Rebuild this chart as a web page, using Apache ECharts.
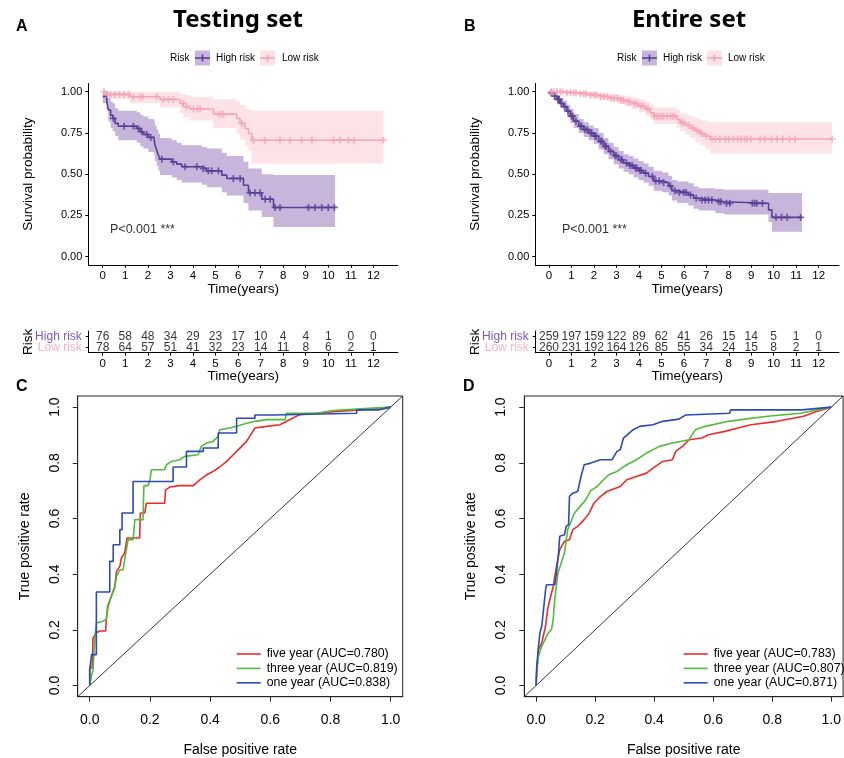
<!DOCTYPE html>
<html>
<head>
<meta charset="utf-8">
<script src="https://cdn.jsdelivr.net/npm/echarts@6/dist/echarts.min.js"></script>
<style>
  html, body { margin: 0; padding: 0; background: #fff; }
  #chart { width: 844px; height: 758px; }
</style>
</head>
<body>
<div id="chart"></div>
<script>
// ---------- Kaplan-Meier: Testing set ----------
const testHighTime  = [0, 0.18, 0.25, 0.35, 0.44, 0.55, 0.69, 1.51, 1.66, 1.80, 2.02, 2.28, 2.32, 2.39, 2.47, 2.54, 3.06, 3.28, 3.50, 4.39, 4.61, 5.28, 5.50, 6.24, 6.46, 7.05, 7.57];
const testHighSurv  = [0.972, 0.939, 0.889, 0.858, 0.838, 0.808, 0.791, 0.777, 0.757, 0.741, 0.723, 0.706, 0.676, 0.646, 0.615, 0.591, 0.575, 0.561, 0.545, 0.534, 0.520, 0.494, 0.474, 0.433, 0.387, 0.348, 0.298];
const testHighLower = [0.93, 0.89, 0.82, 0.78, 0.76, 0.73, 0.706, 0.69, 0.67, 0.655, 0.635, 0.615, 0.58, 0.55, 0.52, 0.495, 0.48, 0.465, 0.45, 0.435, 0.42, 0.39, 0.37, 0.325, 0.28, 0.24, 0.18];
const testHighUpper = [1, 1, 0.96, 0.94, 0.93, 0.90, 0.885, 0.875, 0.86, 0.85, 0.835, 0.82, 0.795, 0.77, 0.745, 0.72, 0.705, 0.69, 0.675, 0.665, 0.655, 0.63, 0.61, 0.575, 0.535, 0.5, 0.495];
const testHighEnd = 10.3;
const testHighCensor = [0.47, 0.95, 1.36, 1.58, 1.73, 1.95, 2.13, 2.62, 3.13, 3.65, 4.17, 4.46, 4.68, 4.83, 5.13, 5.79, 6.09, 6.53, 6.75, 6.98, 7.2, 7.42, 7.64, 7.86, 9.12, 9.41, 9.71, 10.0, 10.27];

const testLowTime  = [0, 0.18, 1.21, 2.54, 3.43, 3.58, 3.87, 4.91, 5.94, 6.09, 6.31, 6.46, 6.61];
const testLowSurv  = [1.0, 0.984, 0.970, 0.953, 0.929, 0.909, 0.895, 0.864, 0.838, 0.808, 0.777, 0.747, 0.706];
const testLowLower = [1.0, 0.955, 0.93, 0.905, 0.87, 0.845, 0.825, 0.78, 0.745, 0.71, 0.675, 0.64, 0.565];
const testLowUpper = [1.0, 1.0, 1.0, 1.0, 0.99, 0.98, 0.97, 0.955, 0.94, 0.92, 0.90, 0.89, 0.885];
const testLowEnd = 12.44;
const testLowCensor = [0.06, 0.21, 0.35, 0.55, 0.74, 0.95, 1.14, 1.36, 1.66, 1.77, 2.39, 2.69, 2.91, 3.13, 3.55, 3.72, 4.02, 4.2, 4.32, 5.13, 5.23, 5.35, 6.16, 6.68, 7.2, 7.86, 8.3, 8.82, 9.27, 10.23, 10.52, 10.89, 11.14, 12.44];

// ---------- Kaplan-Meier: Entire set ----------
const entireHighTime  = [0, 0.21, 0.36, 0.50, 0.65, 0.80, 0.95, 1.10, 1.32, 1.54, 1.77, 1.99, 2.21, 2.43, 2.65, 2.88, 3.10, 3.32, 3.54, 3.77, 3.99, 4.21, 4.43, 4.66, 5.03, 5.32, 5.47, 5.70, 6.21, 6.44, 6.66, 7.40, 7.77, 9.77, 9.92];
const entireHighSurv  = [0.994, 0.974, 0.953, 0.929, 0.909, 0.882, 0.852, 0.821, 0.791, 0.770, 0.750, 0.730, 0.699, 0.669, 0.638, 0.612, 0.587, 0.567, 0.553, 0.537, 0.522, 0.506, 0.486, 0.459, 0.449, 0.429, 0.400, 0.388, 0.374, 0.354, 0.343, 0.333, 0.323, 0.283, 0.238];
const entireHighLower = [0.98, 0.95, 0.925, 0.9, 0.875, 0.845, 0.81, 0.78, 0.75, 0.725, 0.705, 0.685, 0.65, 0.62, 0.59, 0.56, 0.535, 0.515, 0.5, 0.48, 0.465, 0.45, 0.43, 0.4, 0.39, 0.37, 0.34, 0.325, 0.31, 0.29, 0.28, 0.265, 0.255, 0.21, 0.15];
const entireHighUpper = [1.0, 0.995, 0.98, 0.96, 0.945, 0.92, 0.895, 0.865, 0.835, 0.815, 0.795, 0.78, 0.75, 0.72, 0.69, 0.665, 0.64, 0.62, 0.61, 0.595, 0.58, 0.565, 0.545, 0.52, 0.51, 0.49, 0.465, 0.455, 0.445, 0.425, 0.415, 0.41, 0.405, 0.385, 0.385];
const entireHighEnd = 11.26;
const entireHighCensor = [0.1, 0.25, 0.4, 0.45, 0.55, 0.7, 0.85, 1.0, 1.05, 1.2, 1.4, 1.45, 1.6, 1.7, 1.85, 1.9, 2.05, 2.1, 2.3, 2.35, 2.5, 2.55, 2.75, 2.95, 3.0, 3.2, 3.25, 3.45, 3.6, 3.7, 3.85, 3.9, 4.05, 4.1, 4.3, 4.6, 4.75, 4.9, 5.1, 5.4, 5.6, 5.8, 6.0, 6.1, 6.3, 6.55, 6.8, 6.95, 7.1, 7.25, 7.55, 7.65, 7.9, 8.05, 9.05, 9.15, 9.25, 9.5, 10.1, 10.35, 10.6, 11.2];

const entireLowTime  = [0, 0.73, 1.32, 1.77, 2.21, 2.65, 3.10, 3.40, 3.69, 3.99, 4.29, 4.51, 4.66, 5.70, 5.84, 6.07, 6.29, 6.51, 6.73, 6.96, 7.18];
const entireLowSurv  = [1.0, 0.994, 0.988, 0.980, 0.970, 0.961, 0.949, 0.939, 0.927, 0.913, 0.896, 0.872, 0.852, 0.831, 0.811, 0.797, 0.780, 0.764, 0.746, 0.730, 0.713];
const entireLowLower = [1, 0.985, 0.975, 0.965, 0.95, 0.94, 0.925, 0.91, 0.895, 0.875, 0.855, 0.83, 0.805, 0.78, 0.76, 0.74, 0.72, 0.695, 0.675, 0.655, 0.625];
const entireLowUpper = [1, 1, 1, 1, 0.99, 0.985, 0.978, 0.972, 0.965, 0.955, 0.94, 0.92, 0.905, 0.89, 0.87, 0.86, 0.85, 0.84, 0.83, 0.82, 0.815];
const entireLowEnd = 12.59;
const entireLowCensor = [0.1, 0.2, 0.35, 0.5, 0.6, 0.8, 0.95, 1.1, 1.2, 1.4, 1.55, 1.65, 1.85, 2.0, 2.1, 2.3, 2.45, 2.6, 2.75, 2.9, 3.05, 3.2, 3.3, 3.5, 3.6, 3.8, 3.9, 4.1, 4.2, 4.4, 4.7, 4.8, 4.9, 5.0, 5.1, 5.25, 5.4, 5.5, 5.6, 5.9, 6.0, 6.2, 6.4, 6.6, 6.8, 7.0, 7.25, 7.4, 7.6, 7.85, 8.0, 8.2, 8.4, 8.55, 8.7, 8.8, 9.0, 9.4, 9.6, 9.9, 10.15, 10.4, 10.7, 10.95, 12.6];

// ---------- Number at risk ----------
const riskYears = [0, 1, 2, 3, 4, 5, 6, 7, 8, 9, 10, 11, 12];
const riskGroups = ['Low risk', 'High risk'];
const testHighAtRisk   = [76, 58, 48, 34, 29, 23, 17, 10, 4, 4, 1, 0, 0];
const testLowAtRisk    = [78, 64, 57, 51, 41, 32, 23, 14, 11, 8, 6, 2, 1];
const entireHighAtRisk = [259, 197, 159, 122, 89, 62, 41, 26, 15, 14, 5, 1, 0];
const entireLowAtRisk  = [260, 231, 192, 164, 126, 85, 55, 34, 24, 15, 8, 2, 1];

// ---------- ROC: Testing set ----------
const testFiveFpr  = [0, 0, 0.008, 0.011, 0.022, 0.033, 0.053, 0.055, 0.061, 0.072, 0.083, 0.089, 0.1, 0.105, 0.116, 0.124, 0.166, 0.168, 0.183, 0.188, 0.249, 0.252, 0.266, 0.299, 0.344, 0.366, 0.388, 0.41, 0.432, 0.455, 0.477, 0.499, 0.521, 0.549, 0.588, 0.632, 0.654, 0.698, 0.754, 0.809, 0.898, 1];
const testFiveTpr  = [0, 0.063, 0.063, 0.17, 0.19, 0.196, 0.196, 0.237, 0.285, 0.321, 0.356, 0.41, 0.428, 0.458, 0.476, 0.53, 0.53, 0.62, 0.62, 0.655, 0.655, 0.703, 0.713, 0.718, 0.718, 0.739, 0.757, 0.769, 0.785, 0.805, 0.829, 0.853, 0.877, 0.925, 0.931, 0.937, 0.949, 0.973, 0.978, 0.984, 0.99, 1];
const testThreeFpr = [0, 0.0055, 0.011, 0.0166, 0.022, 0.044, 0.055, 0.059, 0.072, 0.083, 0.089, 0.1, 0.111, 0.116, 0.1275, 0.144, 0.15, 0.177, 0.18, 0.194, 0.2, 0.205, 0.249, 0.255, 0.272, 0.299, 0.316, 0.36, 0.371, 0.388, 0.41, 0.427, 0.432, 0.466, 0.488, 0.516, 0.549, 0.588, 0.649, 0.654, 0.754, 0.809, 0.887, 1];
const testThreeTpr = [0, 0.033, 0.057, 0.165, 0.225, 0.231, 0.237, 0.285, 0.321, 0.35, 0.392, 0.416, 0.416, 0.452, 0.524, 0.524, 0.596, 0.596, 0.718, 0.718, 0.739, 0.775, 0.775, 0.793, 0.805, 0.811, 0.823, 0.829, 0.859, 0.871, 0.877, 0.895, 0.919, 0.925, 0.931, 0.94, 0.949, 0.955, 0.955, 0.978, 0.978, 0.988, 0.993, 1];
const testOneFpr   = [0, 0, 0.006, 0.006, 0.022, 0.022, 0.0665, 0.0665, 0.078, 0.078, 0.1, 0.1, 0.1075, 0.1075, 0.144, 0.144, 0.277, 0.277, 0.3215, 0.3215, 0.377, 0.377, 0.427, 0.427, 0.488, 0.488, 0.549, 0.549, 0.61, 0.61, 0.887, 0.887, 0.96, 1];
const testOneTpr   = [0, 0.057, 0.057, 0.111, 0.111, 0.336, 0.336, 0.446, 0.446, 0.506, 0.506, 0.56, 0.56, 0.62, 0.62, 0.733, 0.733, 0.785, 0.785, 0.841, 0.841, 0.853, 0.853, 0.907, 0.907, 0.96, 0.96, 0.972, 0.972, 0.978, 0.978, 0.99, 0.99, 1];

// ---------- ROC: Entire set ----------
const entireFiveFpr  = [0, 0.002, 0.008, 0.019, 0.024, 0.032, 0.039, 0.047, 0.058, 0.069, 0.08, 0.096, 0.113, 0.124, 0.141, 0.163, 0.18, 0.196, 0.218, 0.24, 0.285, 0.307, 0.34, 0.374, 0.396, 0.429, 0.462, 0.473, 0.496, 0.518, 0.562, 0.584, 0.64, 0.684, 0.728, 0.817, 0.906, 0.95, 1];
const entireFiveTpr  = [0, 0.045, 0.129, 0.153, 0.177, 0.213, 0.273, 0.31, 0.356, 0.428, 0.488, 0.518, 0.524, 0.56, 0.572, 0.596, 0.62, 0.655, 0.679, 0.697, 0.715, 0.739, 0.751, 0.763, 0.781, 0.805, 0.811, 0.841, 0.859, 0.883, 0.889, 0.901, 0.913, 0.925, 0.937, 0.949, 0.967, 0.984, 1];
const entireThreeFpr = [0, 0.002, 0.008, 0.019, 0.030, 0.041, 0.052, 0.058, 0.063, 0.074, 0.085, 0.096, 0.107, 0.13, 0.146, 0.168, 0.185, 0.207, 0.229, 0.246, 0.274, 0.307, 0.34, 0.374, 0.418, 0.462, 0.518, 0.54, 0.573, 0.651, 0.695, 0.784, 0.895, 1];
const entireThreeTpr = [0, 0.057, 0.105, 0.141, 0.165, 0.189, 0.201, 0.237, 0.31, 0.404, 0.44, 0.476, 0.56, 0.62, 0.64, 0.667, 0.7, 0.715, 0.74, 0.757, 0.769, 0.793, 0.811, 0.835, 0.859, 0.871, 0.883, 0.919, 0.931, 0.949, 0.955, 0.967, 0.978, 1];
const entireOneFpr   = [0, 0.002, 0.008, 0.013, 0.019, 0.024, 0.032, 0.035, 0.063, 0.069, 0.076, 0.08, 0.096, 0.102, 0.11, 0.113, 0.124, 0.141, 0.152, 0.163, 0.185, 0.218, 0.257, 0.274, 0.285, 0.296, 0.329, 0.351, 0.396, 0.429, 0.484, 0.507, 0.656, 0.659, 0.9, 1];
const entireOneTpr   = [0, 0.069, 0.141, 0.189, 0.213, 0.261, 0.344, 0.362, 0.362, 0.404, 0.476, 0.536, 0.542, 0.572, 0.578, 0.679, 0.691, 0.697, 0.751, 0.793, 0.799, 0.811, 0.811, 0.841, 0.847, 0.889, 0.919, 0.931, 0.937, 0.949, 0.957, 0.972, 0.978, 0.99, 0.99, 1];

const rocTestNames   = ['five year (AUC=0.780)', 'three year (AUC=0.819)', 'one year (AUC=0.838)'];
const rocEntireNames = ['five year (AUC=0.783)', 'three year (AUC=0.807)', 'one year (AUC=0.871)'];

// ---------- styling ----------
const FONT = 'Liberation Sans, Arial, Helvetica, sans-serif';
const HIGH_LINE = '#5b3f98';
const HIGH_BAND = 'rgba(110,60,160,0.38)';
const HIGH_TEXT = '#7d58b4';
const LOW_LINE = '#f4a6b8';
const LOW_BAND = 'rgba(248,160,180,0.30)';
const LOW_TEXT = '#f5b3c5';
const ROC_COLORS = ['#ef2a2a', '#4fbd3b', '#2a4bb8'];
const PLUS = 'path://M3,0h2v3h3v2h-3v3h-2v-3h-3v-2h3z';
const LEGEND_LINE = 'path://M0,0H30V2H0Z';

const zip = (a, b) => a.map((v, i) => [v, b[i]]);

function stepData(T, S, end) {
  const d = zip(T, S);
  d.push([end, S[S.length - 1]]);
  return d;
}
function survAt(T, S, t) {
  let v = S[0];
  for (let i = 0; i < T.length; i++) if (T[i] <= t) v = S[i];
  return v;
}
function bandPoints(T, L, U, end) {
  const pts = [];
  for (let i = 0; i < T.length; i++) {
    const nx = i + 1 < T.length ? T[i + 1] : end;
    pts.push([T[i], U[i]], [nx, U[i]]);
  }
  for (let i = T.length - 1; i >= 0; i--) {
    const nx = i + 1 < T.length ? T[i + 1] : end;
    pts.push([nx, L[i]], [T[i], L[i]]);
  }
  return pts;
}

function kmSeries(g, T, S, L, U, end, censor, line, band) {
  const pts = bandPoints(T, L, U, end);
  return [
    {
      type: 'custom', xAxisIndex: g, yAxisIndex: g, data: [[0, 0]], silent: true, z: 1,
      renderItem: (params, api) => ({
        type: 'polygon',
        shape: { points: pts.map(p => api.coord(p)) },
        style: { fill: band }
      })
    },
    {
      type: 'line', xAxisIndex: g, yAxisIndex: g, step: 'end', symbol: 'none', z: 3,
      data: stepData(T, S, end), lineStyle: { color: line, width: 1.6 }
    },
    {
      type: 'scatter', xAxisIndex: g, yAxisIndex: g, symbol: PLUS, symbolSize: 7, z: 4,
      data: censor.map(t => [t, survAt(T, S, t)]), itemStyle: { color: line }
    }
  ];
}

function riskSeries(g, counts, group) {
  return {
    type: 'scatter', xAxisIndex: g, yAxisIndex: g, symbolSize: 1,
    itemStyle: { color: 'transparent' },
    data: riskYears.map((t, i) => [t, group, counts[i]]),
    label: { show: true, position: 'inside', formatter: p => String(p.value[2]),
             fontSize: 12, fontFamily: FONT, color: '#000' }
  };
}

function rocSeries(g, names, fprs, tprs) {
  const s = names.map((n, k) => ({
    type: 'line', name: n, xAxisIndex: g, yAxisIndex: g, symbol: 'none', z: 3 + k,
    data: zip(fprs[k], tprs[k]), lineStyle: { color: ROC_COLORS[k], width: 1.6 },
    itemStyle: { color: ROC_COLORS[k] }
  }));
  s.push({
    type: 'line', xAxisIndex: g, yAxisIndex: g, symbol: 'none', z: 2, silent: true,
    data: [[-0.04, -0.04], [1.04, 1.04]], lineStyle: { color: '#000', width: 0.8 }
  });
  return s;
}

const yearTicks = riskYears;
const axisBase = {
  type: 'value', splitLine: { show: false }, nameMoveOverlap: false,
  axisLine: { show: true, onZero: false, lineStyle: { color: '#000', width: 1 } }
};

function kmX(g, min, max) {
  return Object.assign({}, axisBase, {
    gridIndex: g, min, max,
    axisTick: { show: true, customValues: yearTicks, length: 3, lineStyle: { color: '#000' } },
    axisLabel: { customValues: yearTicks, fontSize: 11.5, fontFamily: FONT, color: '#000', margin: 5 },
    name: 'Time(years)', nameLocation: 'middle', nameGap: 17,
    nameTextStyle: { fontSize: 13.5, fontFamily: FONT, color: '#000' }
  });
}
function kmY(g) {
  return Object.assign({}, axisBase, {
    gridIndex: g, min: -0.05, max: 1.05,
    axisTick: { show: true, customValues: [0, 0.25, 0.5, 0.75, 1], length: 3, lineStyle: { color: '#000' } },
    axisLabel: { customValues: [0, 0.25, 0.5, 0.75, 1], formatter: v => v.toFixed(2),
                 fontSize: 11, fontFamily: FONT, color: '#000', margin: 6 },
    name: 'Survival probability', nameLocation: 'middle', nameGap: 53,
    nameTextStyle: { fontSize: 13.5, fontFamily: FONT, color: '#000' }
  });
}
function tabY(g) {
  return Object.assign({}, axisBase, {
    type: 'category', gridIndex: g, data: riskGroups, boundaryGap: true,
    axisTick: { show: true, alignWithLabel: true, interval: 0, length: 2.5, lineStyle: { color: '#000' } },
    axisLabel: { interval: 0, margin: 6.5, fontSize: 12, fontFamily: FONT, hideOverlap: false,
                 formatter: v => (v === 'High risk' ? '{h|High risk}' : '{l|Low risk}'),
                 rich: { h: { color: HIGH_TEXT, fontSize: 12, fontFamily: FONT, lineHeight: 10 },
                         l: { color: LOW_TEXT, fontSize: 12, fontFamily: FONT, lineHeight: 10 } } },
    name: 'Risk', nameLocation: 'middle', nameGap: 53.5,
    nameTextStyle: { fontSize: 13.5, fontFamily: FONT, color: '#000' }
  });
}
const rocTicks = [0, 0.2, 0.4, 0.6, 0.8, 1.0];
function rocX(g) {
  return Object.assign({}, axisBase, {
    gridIndex: g, min: -0.04, max: 1.04,
    axisLine: { show: true, onZero: false, lineStyle: { color: '#222', width: 1 } },
    axisTick: { show: true, customValues: rocTicks, length: 5, lineStyle: { color: '#222' } },
    axisLabel: { customValues: rocTicks, formatter: v => v.toFixed(1), fontSize: 14,
                 fontFamily: FONT, color: '#000', margin: 16 },
    name: 'False positive rate', nameLocation: 'middle', nameGap: 46,
    nameTextStyle: { fontSize: 14, fontFamily: FONT, color: '#000' }
  });
}
function rocY(g) {
  return Object.assign({}, axisBase, {
    gridIndex: g, min: -0.04, max: 1.04,
    axisLine: { show: true, onZero: false, lineStyle: { color: '#222', width: 1 } },
    axisTick: { show: true, customValues: rocTicks, length: 5, lineStyle: { color: '#222' } },
    axisLabel: { customValues: rocTicks, formatter: v => v.toFixed(1), fontSize: 14, rotate: 90,
                 fontFamily: FONT, color: '#000', margin: 16 },
    name: 'True positive rate', nameLocation: 'middle', nameGap: 46,
    nameTextStyle: { fontSize: 14, fontFamily: FONT, color: '#000' }
  });
}

function txt(x, y, text, size, opts) {
  return { type: 'text', x, y, silent: true,
    style: Object.assign({ text, fontSize: size, fontFamily: FONT, fill: '#000',
                           align: 'left', verticalAlign: 'middle' }, opts || {}) };
}
function kmKey(x, y, line, band) {
  return [
    { type: 'rect', shape: { x, y: y - 7.5, width: 15, height: 15 }, style: { fill: band }, silent: true },
    { type: 'line', shape: { x1: x, y1: y, x2: x + 15, y2: y }, style: { stroke: line, lineWidth: 1.6 }, silent: true },
    { type: 'line', shape: { x1: x + 7.5, y1: y - 3.5, x2: x + 7.5, y2: y + 3.5 }, style: { stroke: line, lineWidth: 1.6 }, silent: true }
  ];
}

const graphics = [
  txt(238, 20, 'Testing set', 24, { fontFamily: 'Noto Sans', fontWeight: 'bold', align: 'center' }),
  txt(689, 20, 'Entire set', 24, { fontFamily: 'Noto Sans', fontWeight: 'bold', align: 'center' }),
  txt(16, 27, 'A', 16, { fontWeight: 'bold' }),
  txt(464, 27, 'B', 16, { fontWeight: 'bold' }),
  txt(16, 387, 'C', 16, { fontWeight: 'bold' }),
  txt(463, 387, 'D', 16, { fontWeight: 'bold' }),
  txt(170, 58, 'Risk', 10),
  ...kmKey(195, 58, HIGH_LINE, HIGH_BAND),
  txt(216, 58, 'High risk', 10),
  ...kmKey(260, 58, LOW_LINE, LOW_BAND),
  txt(282, 58, 'Low risk', 10),
  txt(617, 58, 'Risk', 10),
  ...kmKey(642, 58, HIGH_LINE, HIGH_BAND),
  txt(663, 58, 'High risk', 10),
  ...kmKey(707, 58, LOW_LINE, LOW_BAND),
  txt(728, 58, 'Low risk', 10),
  txt(110, 230, 'P<0.001 ***', 12.5, { fill: '#333' }),
  txt(562, 230, 'P<0.001 ***', 12.5, { fill: '#333' })
];

function rocLegend(names, left) {
  return {
    data: names.map(n => ({ name: n, icon: LEGEND_LINE })), orient: 'vertical', left, top: 643,
    itemWidth: 24, itemHeight: 13, itemGap: 2.4, selectedMode: false,
    textStyle: { fontSize: 12.3, fontFamily: FONT, color: '#000', padding: [0, 0, 0, 1] }
  };
}

const option = {
  animation: false,
  backgroundColor: '#fff',
  grid: [
    { left: 88.3, top: 83.5, width: 309.7, height: 181.3 },
    { left: 535.3, top: 83.5, width: 303.7, height: 181.3 },
    { left: 88.3, top: 331, width: 309.7, height: 21.7 },
    { left: 535.3, top: 331, width: 303.7, height: 21.7 },
    { left: 77.7, top: 396, width: 325, height: 300.7, show: true, borderColor: '#222', borderWidth: 1 },
    { left: 524.3, top: 396, width: 325, height: 300.7, show: true, borderColor: '#222', borderWidth: 1 }
  ],
  xAxis: [
    kmX(0, -0.64, 13.09), kmX(1, -0.61, 12.906),
    kmX(2, -0.64, 13.09), kmX(3, -0.61, 12.906),
    rocX(4), rocX(5)
  ],
  yAxis: [kmY(0), kmY(1), tabY(2), tabY(3), rocY(4), rocY(5)],
  legend: [rocLegend(rocTestNames, 231.7), rocLegend(rocEntireNames, 678.7)],
  graphic: graphics,
  series: [
    ...kmSeries(0, testHighTime, testHighSurv, testHighLower, testHighUpper, testHighEnd, testHighCensor, HIGH_LINE, HIGH_BAND),
    ...kmSeries(0, testLowTime, testLowSurv, testLowLower, testLowUpper, testLowEnd, testLowCensor, LOW_LINE, LOW_BAND),
    ...kmSeries(1, entireHighTime, entireHighSurv, entireHighLower, entireHighUpper, entireHighEnd, entireHighCensor, HIGH_LINE, HIGH_BAND),
    ...kmSeries(1, entireLowTime, entireLowSurv, entireLowLower, entireLowUpper, entireLowEnd, entireLowCensor, LOW_LINE, LOW_BAND),
    riskSeries(2, testHighAtRisk, 'High risk'), riskSeries(2, testLowAtRisk, 'Low risk'),
    riskSeries(3, entireHighAtRisk, 'High risk'), riskSeries(3, entireLowAtRisk, 'Low risk'),
    ...rocSeries(4, rocTestNames, [testFiveFpr, testThreeFpr, testOneFpr], [testFiveTpr, testThreeTpr, testOneTpr]),
    ...rocSeries(5, rocEntireNames, [entireFiveFpr, entireThreeFpr, entireOneFpr], [entireFiveTpr, entireThreeTpr, entireOneTpr])
  ]
};

const chart = echarts.init(document.getElementById('chart'), null, { renderer: 'canvas' });
chart.setOption(option);
</script>
</body>
</html>
